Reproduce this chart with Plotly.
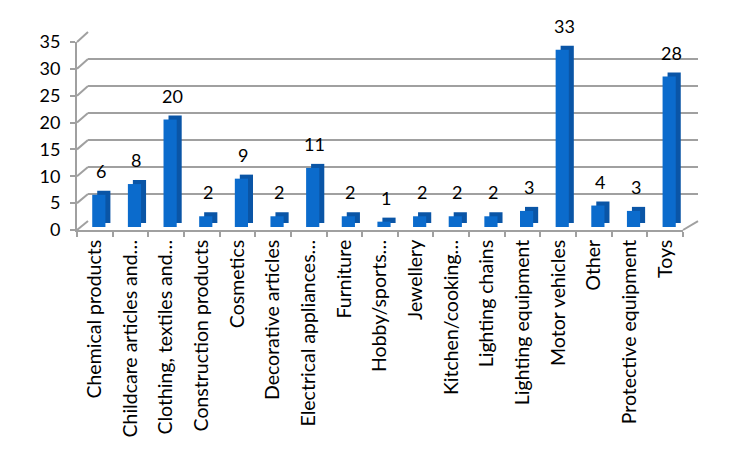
import plotly.graph_objects as go

categories = [
    "Chemical products", "Childcare articles and…", "Clothing, textiles and…",
    "Construction products", "Cosmetics", "Decorative articles",
    "Electrical appliances…", "Furniture", "Hobby/sports…", "Jewellery",
    "Kitchen/cooking…", "Lighting chains", "Lighting equipment",
    "Motor vehicles", "Other", "Protective equipment", "Toys",
]
values = [6, 8, 20, 2, 9, 2, 11, 2, 1, 2, 2, 2, 3, 33, 4, 3, 28]
y_ticks = [0, 5, 10, 15, 20, 25, 30, 35]

FONT = "Lato"
GRID = "#A0A0A0"
Y_MAX = 35

# figure is drawn 8px inside the page (default body margin)
W, H = 738, 441
L, R, T, B = 69, 48, 22, 219
PW, PH = W - L - R, H - T - B


def dom_x(px0, px1):
    return [(px0 - L) / PW, (px1 - L) / PW]


def dom_y(py_top, py_bot):
    return [(H - B - py_bot) / PH, (H - B - py_top) / PH]


front_x, front_y = dom_x(69, 675), dom_y(32, 222)
back_x, back_y = dom_x(80, 690), dom_y(22, 213)
bar_x, bar_y = dom_x(73, 679), dom_y(29, 219)

bar_w = 0.37
depth_dx = 0.14
depth_dy = 0.75

fig = go.Figure()
# invisible traces so that the back wall and front axes subplots are drawn
fig.add_trace(go.Scatter(
    x=categories, y=values, mode="markers", marker=dict(opacity=0),
    hoverinfo="skip", showlegend=False, xaxis="x2", yaxis="y2",
))
fig.add_trace(go.Scatter(
    x=categories, y=values, mode="markers", marker=dict(opacity=0),
    hoverinfo="skip", showlegend=False, xaxis="x", yaxis="y",
))
# depth (side / top face) drawn behind the front face
fig.add_trace(go.Bar(
    x=categories, y=values, base=depth_dy,
    width=bar_w, offset=-bar_w / 2 + depth_dx,
    marker=dict(color="#0A55A6", line=dict(width=0)),
    hoverinfo="skip", showlegend=False, xaxis="x3", yaxis="y3",
))
fig.add_trace(go.Bar(
    x=categories, y=values,
    width=bar_w, offset=-bar_w / 2,
    marker=dict(color="#0B6BCC", line=dict(width=0)),
    showlegend=False, xaxis="x3", yaxis="y3",
))

annotations = []
for c, v in zip(categories, values):
    annotations.append(dict(
        x=c, y=v + depth_dy, xref="x3", yref="y3", text=str(v),
        showarrow=False, yanchor="bottom", xshift=2, yshift=7,
        font=dict(family=FONT, size=18, color="#000000"),
    ))

shapes = []
# slanted connectors from front y axis to back-wall gridlines
for t in y_ticks:
    fy = front_y[0] + t / Y_MAX * (front_y[1] - front_y[0])
    by = back_y[0] + t / Y_MAX * (back_y[1] - back_y[0])
    shapes.append(dict(type="line", xref="paper", yref="paper",
                       x0=front_x[0], y0=fy, x1=back_x[0], y1=by,
                       line=dict(color=GRID, width=2), layer="below"))
# floor right edge
shapes.append(dict(type="line", xref="paper", yref="paper",
                   x0=front_x[1], y0=front_y[0], x1=back_x[1], y1=back_y[0],
                   line=dict(color=GRID, width=2), layer="below"))

fig.update_layout(
    width=W, height=H,
    margin=dict(l=L, r=R, t=T, b=B),
    paper_bgcolor="white", plot_bgcolor="rgba(0,0,0,0)",
    barmode="overlay",
    font=dict(family=FONT, size=18, color="#000000"),
    annotations=annotations, shapes=shapes,
    xaxis=dict(
        domain=front_x, anchor="y",
        type="category", tickangle=-90,
        tickfont=dict(family=FONT, size=19.5),
        showline=True, linecolor=GRID, linewidth=2,
        ticks="outside", tickson="boundaries", ticklen=5,
        tickcolor=GRID, tickwidth=2,
        showgrid=False, range=[-0.5, 16.5],
    ),
    yaxis=dict(
        domain=front_y, anchor="x",
        range=[0, Y_MAX], tickvals=y_ticks,
        tickfont=dict(family=FONT, size=18),
        showline=True, linecolor=GRID, linewidth=2,
        ticks="outside", ticklen=5, tickcolor=GRID, tickwidth=2,
        ticklabelstandoff=6,
        showgrid=False, zeroline=False,
    ),
    xaxis2=dict(
        domain=back_x, anchor="y2", type="category",
        categoryarray=categories, range=[-0.5, 16.5],
        showticklabels=False, showgrid=False, showline=False, ticks="",
    ),
    yaxis2=dict(
        domain=back_y, anchor="x2", range=[0, Y_MAX], tickvals=y_ticks,
        showticklabels=False, showgrid=True, gridcolor=GRID, gridwidth=2,
        zeroline=False, showline=False, ticks="",
    ),
    xaxis3=dict(
        domain=bar_x, anchor="y3", type="category",
        categoryarray=categories, range=[-0.5, 16.5],
        showticklabels=False, showgrid=False, showline=False, ticks="",
    ),
    yaxis3=dict(
        domain=bar_y, anchor="x3", range=[0, Y_MAX],
        showticklabels=False, showgrid=False, zeroline=False,
        showline=False, ticks="",
    ),
)

fig.write_html("out.html")
